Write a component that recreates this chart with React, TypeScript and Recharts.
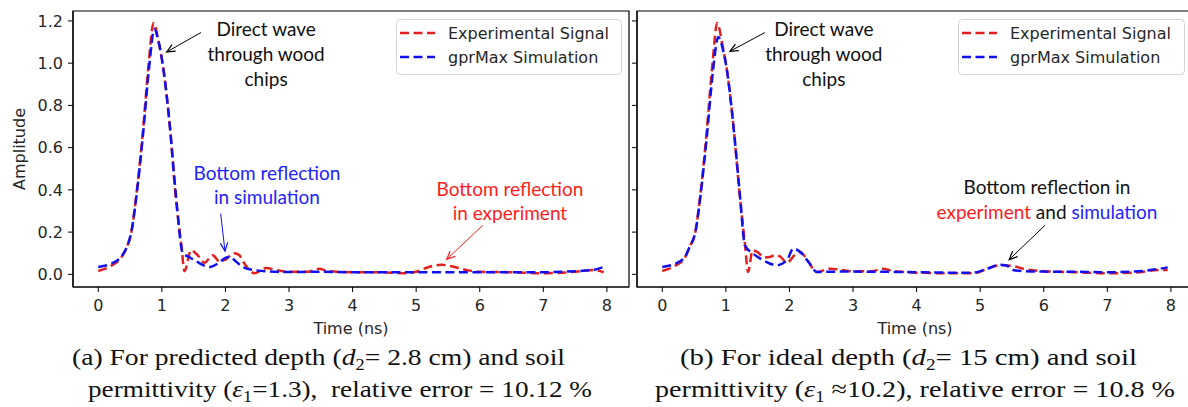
import React from 'react';
import {
  LineChart,
  Line,
  XAxis,
  YAxis,
  ReferenceArea,
  ReferenceLine,
  ReferenceDot,
  Label,
} from 'recharts';

// ---------- axes ----------
const X_TICKS = [0, 1, 2, 3, 4, 5, 6, 7, 8];
const Y_TICKS = [0, 0.2, 0.4, 0.6, 0.8, 1.0, 1.2];
const X_DOMAIN: [number, number] = [-0.3975, 8.3475];
const Y_DOMAIN: [number, number] = [-0.06, 1.247];

// ---------- (a) predicted depth ----------
const expTimeA = [0, 0.2, 0.35, 0.45, 0.52, 0.6, 0.7, 0.79, 0.87, 0.95, 1.02, 1.12, 1.22, 1.31, 1.355, 1.46, 1.55, 1.67, 1.8, 1.91, 2.0, 2.14, 2.22, 2.3, 2.46, 2.64, 2.8, 3.0, 3.3, 3.48, 3.6, 4.0, 4.4, 4.8, 5.0, 5.2, 5.4, 5.6, 5.8, 6.0, 6.5, 7.0, 7.5, 7.8, 7.95];
const expAmpA = [0.016, 0.04, 0.075, 0.13, 0.2, 0.38, 0.67, 0.99, 1.19, 1.1, 0.98, 0.72, 0.36, 0.13, 0.015, 0.114, 0.095, 0.055, 0.09, 0.06, 0.07, 0.1, 0.09, 0.05, 0.005, 0.03, 0.02, 0.012, 0.012, 0.027, 0.015, 0.01, 0.01, 0.005, 0.012, 0.035, 0.045, 0.035, 0.02, 0.012, 0.01, 0.005, 0.012, 0.02, 0.01];

const simTimeA = [0, 0.2, 0.35, 0.45, 0.52, 0.6, 0.7, 0.8, 0.88, 0.95, 1.03, 1.12, 1.22, 1.33, 1.43, 1.55, 1.75, 1.9, 2.0, 2.06, 2.17, 2.27, 2.48, 2.96, 3.5, 4.0, 5.0, 6.0, 7.0, 7.5, 7.8, 7.95];
const simAmpA = [0.035, 0.05, 0.08, 0.13, 0.2, 0.37, 0.65, 0.98, 1.16, 1.1, 0.96, 0.72, 0.38, 0.1, 0.082, 0.06, 0.035, 0.055, 0.078, 0.082, 0.06, 0.035, 0.019, 0.011, 0.012, 0.01, 0.01, 0.01, 0.01, 0.015, 0.022, 0.035];

// ---------- (b) ideal depth ----------
const expTimeB = [0, 0.2, 0.35, 0.43, 0.52, 0.6, 0.7, 0.79, 0.863, 0.95, 1.02, 1.12, 1.22, 1.3, 1.35, 1.42, 1.5, 1.6, 1.69, 1.77, 1.85, 1.96, 2.08, 2.17, 2.27, 2.43, 2.64, 2.8, 3.0, 3.3, 3.47, 3.6, 4.0, 4.5, 4.9, 5.1, 5.3, 5.5, 5.7, 6.0, 6.5, 7.0, 7.5, 7.8, 7.95];
const expAmpB = [0.016, 0.04, 0.075, 0.13, 0.2, 0.38, 0.68, 1.0, 1.19, 1.08, 0.96, 0.7, 0.37, 0.145, 0.011, 0.114, 0.105, 0.08, 0.082, 0.09, 0.085, 0.055, 0.09, 0.106, 0.074, 0.011, 0.027, 0.022, 0.014, 0.015, 0.027, 0.018, 0.008, 0.005, 0.005, 0.025, 0.043, 0.04, 0.025, 0.015, 0.01, 0.005, 0.01, 0.02, 0.02];

const simTimeB = [0, 0.2, 0.35, 0.43, 0.52, 0.6, 0.7, 0.8, 0.88, 0.95, 1.03, 1.12, 1.22, 1.3, 1.43, 1.59, 1.8, 1.96, 2.06, 2.17, 2.32, 2.43, 2.8, 3.5, 4.0, 4.5, 4.9, 5.1, 5.3, 5.4, 5.55, 6.0, 6.5, 7.0, 7.5, 7.8, 7.95];
const simAmpB = [0.035, 0.05, 0.08, 0.13, 0.2, 0.37, 0.65, 0.97, 1.124, 1.07, 0.94, 0.7, 0.38, 0.137, 0.098, 0.066, 0.043, 0.066, 0.122, 0.106, 0.05, 0.011, 0.013, 0.012, 0.01, 0.008, 0.008, 0.025, 0.045, 0.043, 0.018, 0.013, 0.012, 0.01, 0.015, 0.025, 0.033];

const SERIES_NAMES = ['Experimental Signal', 'gprMax Simulation'];

const RED = '#e31f1f';
const BLUE = '#1010f0';
const TEXT_RED = '#ff1c1c';
const TEXT_BLUE = '#2222ff';
const DASH = '9 4.5';
const AXIS_FONT = 'DejaVu Sans';
const NOTE_FONT = 'Lato';
const CAPTION_FONT = 'Liberation Serif';

type Pt = { t: number; v: number };
const zip = (ts: number[], vs: number[]): Pt[] => ts.map((t, i) => ({ t, v: vs[i] }));

type Part = { text: string; color: string };
type NoteLine = Part[];

// Annotation text block centred on a data coordinate
const noteShape = (lines: NoteLine[], gap: number, size = 19) => (p: any) => {
  const { cx, cy } = p;
  const n = lines.length;
  return (
    <text textAnchor="middle" fontFamily={NOTE_FONT} fontSize={size}>
      {lines.map((ln, i) => {
        const y = cy + (i - (n - 1) / 2) * gap + size * 0.36;
        return ln.map((part, j) =>
          j === 0 ? (
            <tspan key={`${i}-${j}`} x={cx} y={y} fill={part.color}>
              {part.text}
            </tspan>
          ) : (
            <tspan key={`${i}-${j}`} fill={part.color}>
              {part.text}
            </tspan>
          )
        );
      })}
    </text>
  );
};

// Thin annotation arrow with an open head at the second point
const arrowShape = (color: string) => (p: any) => {
  const { x1, y1, x2, y2 } = p;
  const ang = Math.atan2(y2 - y1, x2 - x1);
  const L = 9;
  const a = 0.42;
  const hx1 = x2 - L * Math.cos(ang - a);
  const hy1 = y2 - L * Math.sin(ang - a);
  const hx2 = x2 - L * Math.cos(ang + a);
  const hy2 = y2 - L * Math.sin(ang + a);
  return (
    <g>
      <line x1={x1} y1={y1} x2={x2} y2={y2} stroke={color} strokeWidth={1} />
      <polyline
        points={`${hx1},${hy1} ${x2},${y2} ${hx2},${hy2}`}
        fill="none"
        stroke={color}
        strokeWidth={1.2}
      />
    </g>
  );
};

const tickStyle = { fontSize: 16, fill: '#262626', fontFamily: AXIS_FONT };

const timeLabel = (p: any) => {
  const vb = p.viewBox;
  return (
    <text
      x={vb.x + vb.width / 2}
      y={vb.y + 47}
      textAnchor="middle"
      fontFamily={AXIS_FONT}
      fontSize={16}
      fill="#262626"
    >
      Time (ns)
    </text>
  );
};

const ampLabel = (p: any) => {
  const vb = p.viewBox;
  const x = vb.x + 25;
  const y = vb.y + vb.height / 2;
  return (
    <text
      x={x}
      y={y}
      transform={`rotate(-90 ${x} ${y})`}
      textAnchor="middle"
      fontFamily={AXIS_FONT}
      fontSize={16}
      fill="#262626"
    >
      Amplitude
    </text>
  );
};

type PanelProps = {
  exp: Pt[];
  sim: Pt[];
  width: number;
  yAxisWidth: number;
  showYLabels: boolean;
  children?: React.ReactNode;
};

function Panel({ exp, sim, width, yAxisWidth, showYLabels, children }: PanelProps) {
  return (
    <LineChart width={width} height={340} margin={{ top: 11, right: 2, bottom: 0, left: 0 }}>
      <XAxis
        dataKey="t"
        type="number"
        domain={X_DOMAIN}
        ticks={X_TICKS}
        allowDataOverflow
        height={53}
        tickSize={5}
        tickMargin={8}
        tick={tickStyle}
        stroke="#000"
        tickLine={{ stroke: '#000' }}
        axisLine={{ stroke: '#000', strokeWidth: 1.2 }}
      >
        <Label content={timeLabel} />
      </XAxis>
      <YAxis
        dataKey="v"
        type="number"
        domain={Y_DOMAIN}
        ticks={Y_TICKS}
        allowDataOverflow
        width={yAxisWidth}
        tickSize={5}
        tickMargin={5}
        tick={tickStyle}
        tickFormatter={(v: number) => (showYLabels ? v.toFixed(1) : '')}
        stroke="#000"
        tickLine={{ stroke: '#000' }}
        axisLine={{ stroke: '#000', strokeWidth: 1.2 }}
      >
        {showYLabels ? <Label content={ampLabel} /> : null}
      </YAxis>
      <ReferenceArea
        x1={X_DOMAIN[0]}
        x2={X_DOMAIN[1]}
        y1={Y_DOMAIN[0]}
        y2={Y_DOMAIN[1]}
        fill="none"
        fillOpacity={0}
        stroke="#000"
        strokeWidth={1.2}
      />
      <Line
        data={exp}
        dataKey="v"
        name={SERIES_NAMES[0]}
        type="monotone"
        stroke={RED}
        strokeWidth={2.5}
        strokeDasharray={DASH}
        dot={false}
        isAnimationActive={false}
      />
      <Line
        data={sim}
        dataKey="v"
        name={SERIES_NAMES[1]}
        type="monotone"
        stroke={BLUE}
        strokeWidth={2.5}
        strokeDasharray={DASH}
        dot={false}
        isAnimationActive={false}
      />
      {children}
    </LineChart>
  );
}

function LegendBox({ left, width }: { left: number; width: number }) {
  return (
    <svg
      style={{ position: 'absolute', left, top: 19 }}
      width={width + 2}
      height={58}
    >
      <rect
        x={0.5}
        y={0.5}
        width={width}
        height={55}
        rx={4}
        fill="rgba(255,255,255,0.85)"
        stroke="#d4d4d4"
      />
      <line x1={4} y1={14} x2={39} y2={14} stroke={RED} strokeWidth={2.5} strokeDasharray={DASH} />
      <text x={52} y={20} fontFamily={AXIS_FONT} fontSize={16} fill="#262626">
        {SERIES_NAMES[0]}
      </text>
      <line x1={4} y1={38} x2={39} y2={38} stroke={BLUE} strokeWidth={2.5} strokeDasharray={DASH} />
      <text x={52} y={44} fontFamily={AXIS_FONT} fontSize={16} fill="#262626">
        {SERIES_NAMES[1]}
      </text>
    </svg>
  );
}

const directWave: NoteLine[] = [
  [{ text: 'Direct wave', color: '#111' }],
  [{ text: 'through wood', color: '#111' }],
  [{ text: 'chips', color: '#111' }],
];

const SUB = { fontSize: 16 };
const PRE = { whiteSpace: 'pre' as const };

function Captions() {
  return (
    <svg style={{ position: 'absolute', left: 0, top: 335 }} width={1188} height={72}>
      <g fontFamily={CAPTION_FONT} fontSize={24} fill="#111" textAnchor="start">
        <text x={72} y={30} textLength={493} lengthAdjust="spacingAndGlyphs" style={PRE}>
          <tspan>(a) For predicted depth (</tspan>
          <tspan fontStyle="italic">d</tspan>
          <tspan {...SUB} dy={5}>2</tspan>
          <tspan dy={-5}>= 2.8 cm) and soil</tspan>
        </text>
        <text x={88} y={62} textLength={504} lengthAdjust="spacingAndGlyphs" style={PRE}>
          <tspan>permittivity (</tspan>
          <tspan fontStyle="italic">ε</tspan>
          <tspan {...SUB} dy={5}>1</tspan>
          <tspan dy={-5}>=1.3),  relative error = 10.12 %</tspan>
        </text>
        <text x={680} y={30} textLength={457} lengthAdjust="spacingAndGlyphs" style={PRE}>
          <tspan>(b) For ideal depth (</tspan>
          <tspan fontStyle="italic">d</tspan>
          <tspan {...SUB} dy={5}>2</tspan>
          <tspan dy={-5}>= 15 cm) and soil</tspan>
        </text>
        <text x={655} y={62} textLength={520} lengthAdjust="spacingAndGlyphs" style={PRE}>
          <tspan>permittivity (</tspan>
          <tspan fontStyle="italic">ε</tspan>
          <tspan {...SUB} dy={5}>1</tspan>
          <tspan dy={-5}> ≈10.2), relative error = 10.8 %</tspan>
        </text>
      </g>
    </svg>
  );
}

export default function App() {
  const expA = zip(expTimeA, expAmpA);
  const simA = zip(simTimeA, simAmpA);
  const expB = zip(expTimeB, expAmpB);
  const simB = zip(simTimeB, simAmpB);

  return (
    <div
      style={{
        position: 'absolute',
        left: 0,
        top: 0,
        width: 1188,
        height: 407,
        overflow: 'hidden',
        background: '#fff',
      }}
    >
      <div style={{ position: 'absolute', left: 0, top: 0 }}>
        <Panel exp={expA} sim={simA} width={631} yAxisWidth={73} showYLabels>
          <ReferenceLine
            segment={[{ x: 1.615, y: 1.145 }, { x: 1.076, y: 1.053 }]}
            shape={arrowShape('#000')}
          />
          <ReferenceLine
            segment={[{ x: 1.925, y: 0.2875 }, { x: 1.993, y: 0.11 }]}
            shape={arrowShape(BLUE)}
          />
          <ReferenceLine
            segment={[{ x: 6.046, y: 0.232 }, { x: 5.48, y: 0.071 }]}
            shape={arrowShape(TEXT_RED)}
          />
          <ReferenceDot x={2.64} y={1.042} r={0} shape={noteShape(directWave, 25)} />
          <ReferenceDot
            x={2.653}
            y={0.4216}
            r={0}
            shape={noteShape(
              [
                [{ text: 'Bottom reflection', color: TEXT_BLUE }],
                [{ text: 'in simulation', color: TEXT_BLUE }],
              ],
              24
            )}
          />
          <ReferenceDot
            x={6.475}
            y={0.3458}
            r={0}
            shape={noteShape(
              [
                [{ text: 'Bottom reflection', color: TEXT_RED }],
                [{ text: 'in experiment', color: TEXT_RED }],
              ],
              24
            )}
          />
        </Panel>
      </div>
      <div style={{ position: 'absolute', left: 630, top: 0 }}>
        <Panel exp={expB} sim={simB} width={565} yAxisWidth={7} showYLabels={false}>
          <ReferenceLine
            segment={[{ x: 1.614, y: 1.145 }, { x: 1.064, y: 1.056 }]}
            shape={arrowShape('#000')}
          />
          <ReferenceLine
            segment={[{ x: 6.02, y: 0.232 }, { x: 5.456, y: 0.0696 }]}
            shape={arrowShape('#000')}
          />
          <ReferenceDot x={2.541} y={1.042} r={0} shape={noteShape(directWave, 25)} />
          <ReferenceDot
            x={6.05}
            y={0.353}
            r={0}
            shape={noteShape(
              [
                [{ text: 'Bottom reflection in', color: '#111' }],
                [
                  { text: 'experiment', color: TEXT_RED },
                  { text: ' and ', color: '#111' },
                  { text: 'simulation', color: TEXT_BLUE },
                ],
              ],
              25
            )}
          />
        </Panel>
      </div>
      <LegendBox left={396} width={225} />
      <LegendBox left={958} width={226} />
      <Captions />
    </div>
  );
}
